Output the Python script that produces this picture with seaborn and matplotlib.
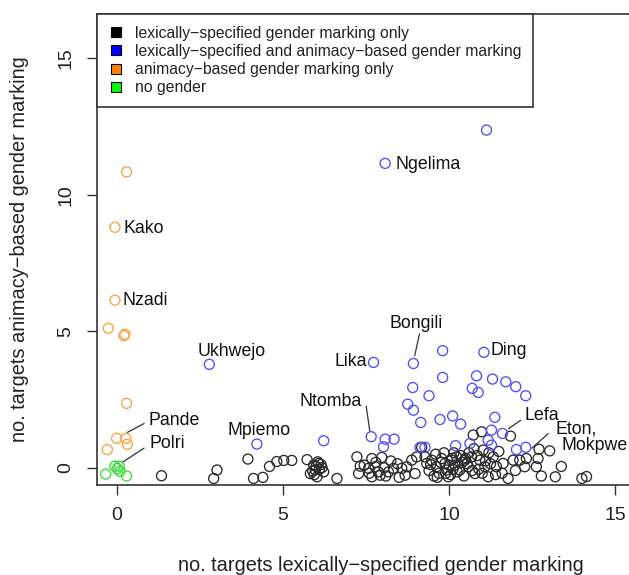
import matplotlib
matplotlib.use("Agg")
import matplotlib.pyplot as plt
import seaborn as sns
from matplotlib.lines import Line2D

sns.set_style("white")
plt.rcParams["font.family"] = ["Liberation Sans", "DejaVu Sans"]

# points (x = lexical targets, y = animacy-based targets, jittered)
black_x = [1.35, 2.92, 3.02, 3.95, 4.12, 4.4, 4.6, 4.82, 5.03, 5.27,
           5.73, 5.93, 6.08, 6.18, 5.98, 5.83, 6.03, 6.23, 6.1, 6.0, 6.63,
           5.9, 6.15, 5.95, 6.05,
           7.23, 7.33, 7.28, 7.68, 7.98, 7.58, 7.78, 7.88, 7.68, 7.93, 8.18, 8.33, 8.58,
           8.68, 8.73, 8.88, 8.98, 9.03, 7.8, 8.1, 8.45,
           7.45, 7.6, 8.25, 8.5, 8.05,
           9.18, 9.28, 9.33, 9.48, 9.63, 9.78, 9.88, 9.93, 9.98, 10.08, 10.18, 10.23,
           10.33, 10.48, 10.58, 10.68, 10.73, 10.98, 10.78, 10.93, 11.03, 11.08, 11.18,
           11.33, 11.43, 11.63, 11.78, 11.85, 11.93, 12.13, 12.28, 12.33, 12.68, 12.63,
           12.71, 13.03, 12.78, 13.2, 13.38, 14.0, 14.14,
           9.6, 9.7, 9.85, 10.0, 10.05, 10.15, 10.4, 10.45, 10.6, 10.9, 11.2, 11.5,
           10.1, 9.4, 9.55, 11.6, 12.0, 10.75,
           9.45, 9.75, 9.9, 10.25, 10.35, 10.55, 10.7, 10.85, 11.0, 11.1, 11.25,
           9.65, 10.12, 10.5, 11.4]
black_y = [-0.29, -0.39, -0.08, 0.32, -0.39, -0.35, 0.05, 0.23, 0.27, 0.27,
           0.3, 0.1, 0.16, 0.01, -0.08, -0.21, -0.33, -0.15, -0.05, 0.05, -0.39,
           -0.12, 0.12, -0.25, 0.22,
           0.4, 0.06, -0.21, 0.34, 0.38, -0.02, 0.04, -0.15, -0.33, -0.27, -0.15, -0.02, -0.02,
           -0.27, 0.04, 0.28, -0.21, 0.4, 0.2, -0.3, 0.15,
           0.1, -0.2, 0.25, -0.35, 0.0,
           0.75, 0.4, 0.16, 0.28, 0.04, 0.34, 0.16, -0.08, -0.33, 0.28, 0.1, 0.4,
           -0.08, 0.28, 0.04, 0.4, 1.2, 1.32, -0.21, 0.28, 0.65, 0.04, -0.33,
           0.4, 0.04, 0.16, -0.39, 1.16, 0.28, 0.28, 0.04, 0.34, 0.34, 0.04,
           0.68, 0.62, -0.3, -0.33, 0.05, -0.39, -0.32,
           0.5, -0.2, 0.55, 0.1, -0.25, 0.55, 0.2, -0.3, 0.55, -0.05, 0.55, 0.6,
           0.35, -0.1, -0.3, -0.2, -0.1, 0.7,
           0.12, 0.2, -0.2, -0.15, 0.45, 0.15, -0.1, 0.45, -0.2, 0.25, 0.15,
           -0.35, -0.05, 0.35, -0.25]

blue_x = [2.79, 4.22, 6.23, 7.73, 8.93, 9.81, 11.05, 9.81, 8.91, 10.83, 10.7, 10.88,
          9.4, 8.76, 8.93, 9.15, 9.73, 10.11, 10.35, 7.66, 8.08, 8.35, 8.03, 9.13,
          9.28, 10.2, 10.63, 11.18, 11.31, 11.71, 12.01, 12.31, 11.38, 11.28, 11.61,
          11.28, 12.03, 12.31, 8.08, 11.13]
blue_y = [3.79, 0.87, 0.99, 3.86, 3.82, 4.29, 4.23, 3.31, 2.94, 3.37, 2.91, 2.76,
          2.64, 2.33, 2.11, 1.66, 1.77, 1.9, 1.6, 1.14, 1.05, 1.05, 0.77, 0.75,
          0.75, 0.81, 0.89, 1.01, 3.25, 3.15, 2.97, 2.64, 1.85, 1.38, 1.26,
          0.83, 0.67, 0.75, 11.15, 12.37]

orange_x = [0.3, -0.05, -0.05, -0.25, 0.25, 0.22, 0.3, 0.0, 0.28, 0.32, -0.28]
orange_y = [10.84, 8.81, 6.14, 5.11, 4.89, 4.84, 2.36, 1.08, 1.08, 0.86, 0.67]

green_x = [-0.33, -0.05, 0.08, 0.1, 0.3, 0.02]
green_y = [-0.23, 0.06, 0.06, -0.13, -0.3, -0.03]

legend_labels = ["lexically\u2212specified gender marking only",
                 "lexically\u2212specified and animacy\u2212based gender marking",
                 "animacy\u2212based gender marking only",
                 "no gender"]
legend_colors = ["#000000", "#0000ff", "#ff8000", "#00ff00"]
point_colors = ["#2a2a2a", "#4d4dff", "#ffa040", "#30e030"]

fig = plt.figure(figsize=(6.29, 5.75), dpi=100)
ax = fig.add_axes([0.1537, 0.1565, 0.9035, 0.8191])

groups = [(black_x, black_y), (blue_x, blue_y), (orange_x, orange_y), (green_x, green_y)]
for (gx, gy), col in zip(groups, point_colors):
    sns.scatterplot(x=gx, y=gy, ax=ax, marker="o", s=52, facecolors="none",
                    edgecolor=col, linewidth=0.95, legend=False)

ax.set_xlim(-0.6, 16.5)
ax.set_ylim(-0.63, 16.62)
ax.set_xticks([0, 5, 10, 15])
ax.set_yticks([0, 5, 10, 15])
ax.set_yticklabels(["0", "5", "10", "15"], rotation=90, va="center")
ax.tick_params(axis="both", direction="out", length=7, width=1, color="#333333",
               labelsize=14, pad=9, labelcolor="#222222")
ax.tick_params(axis="x", bottom=True)
ax.tick_params(axis="y", left=True)
for s in ax.spines.values():
    s.set_color("#333333")
    s.set_linewidth(1.2)

ax.set_xlabel("no. targets lexically\u2212specified gender marking", fontsize=14.4, color="#222222")
ax.xaxis.set_label_coords(0.5, -0.17)
ax.xaxis.label.set_va("center")
ax.set_ylabel("no. targets animacy\u2212based gender marking", fontsize=14.4, color="#222222")
ax.yaxis.set_label_coords(-0.135, 0.5)
ax.yaxis.label.set_va("center")

# language labels
fs = 12.8
tc = "#111111"
ax.text(8.4, 11.1, "Ngelima", fontsize=fs, color=tc, va="center", ha="left")
ax.text(0.2, 8.76, "Kako", fontsize=fs, color=tc, va="center", ha="left")
ax.text(0.17, 6.14, "Nzadi", fontsize=fs, color=tc, va="center", ha="left")
ax.text(3.47, 4.27, "Ukhwejo", fontsize=fs, color=tc, va="center", ha="center")
ax.text(9.0, 5.28, "Bongili", fontsize=fs, color=tc, va="center", ha="center")
ax.annotate("", xy=(8.95, 4.0), xytext=(9.13, 5.0),
            arrowprops=dict(arrowstyle="-", color="#333333", lw=0.9))
ax.text(7.53, 3.88, "Lika", fontsize=fs, color=tc, va="center", ha="right")
ax.text(11.25, 4.3, "Ding", fontsize=fs, color=tc, va="center", ha="left")
ax.text(7.38, 2.42, "Ntomba", fontsize=fs, color=tc, va="center", ha="right")
ax.annotate("", xy=(7.63, 1.24), xytext=(7.5, 2.35),
            arrowprops=dict(arrowstyle="-", color="#333333", lw=0.9))
ax.text(12.26, 1.9, "Lefa", fontsize=fs, color=tc, va="center", ha="left")
ax.annotate("", xy=(11.72, 1.37), xytext=(12.23, 1.8),
            arrowprops=dict(arrowstyle="-", color="#333333", lw=0.9))
ax.text(13.22, 1.42, "Eton,", fontsize=fs, color=tc, va="center", ha="left")
ax.text(13.4, 0.8, "Mokpwe", fontsize=fs, color=tc, va="center", ha="left")
ax.annotate("", xy=(12.43, 0.65), xytext=(13.05, 1.32),
            arrowprops=dict(arrowstyle="-", color="#333333", lw=0.9))
ax.text(4.3, 1.35, "Mpiemo", fontsize=fs, color=tc, va="center", ha="center")
ax.text(0.95, 1.74, "Pande", fontsize=fs, color=tc, va="center", ha="left")
ax.annotate("", xy=(0.25, 1.25), xytext=(0.9, 1.67),
            arrowprops=dict(arrowstyle="-", color="#333333", lw=0.9))
ax.text(1.0, 0.9, "Polri", fontsize=fs, color=tc, va="center", ha="left")
ax.annotate("", xy=(0.12, 0.16), xytext=(0.9, 0.78),
            arrowprops=dict(arrowstyle="-", color="#333333", lw=0.9))

handles = [Line2D([0], [0], marker="s", linestyle="none", markersize=7.5,
                  markerfacecolor=c, markeredgecolor="black", markeredgewidth=0.8)
           for c in legend_colors]
leg = ax.legend(handles, legend_labels, loc="upper left", bbox_to_anchor=(0, 1),
                borderaxespad=0, fontsize=11.3, frameon=True, fancybox=False,
                framealpha=1, edgecolor="#333333", borderpad=0.75, labelspacing=0.2,
                handlelength=1.0, handletextpad=0.7)
leg.get_frame().set_linewidth(1.2)
for t in leg.get_texts():
    t.set_color("#222222")

fig.savefig("out.png", dpi=100)
